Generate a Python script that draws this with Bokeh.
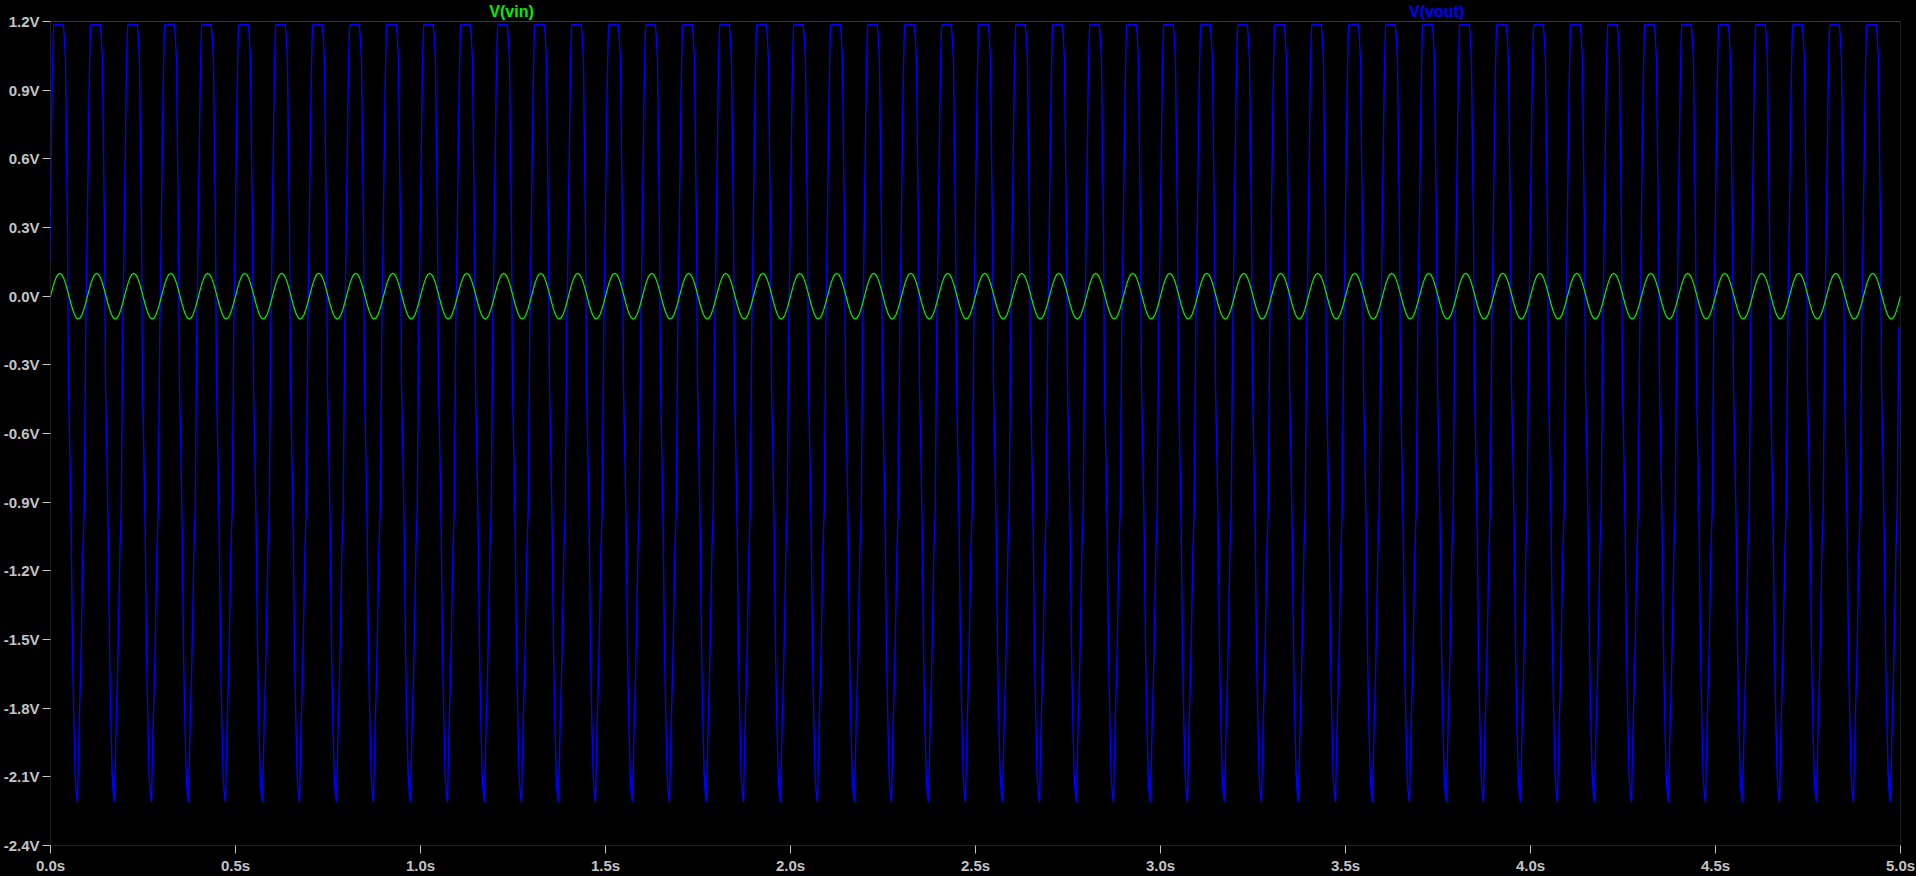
import numpy as np
from bokeh.plotting import figure
from bokeh.models import Range1d, FixedTicker, PrintfTickFormatter, BoxAnnotation
from bokeh.core.properties import value
from bokeh.embed import file_html
from bokeh.resources import INLINE

# ---------------- data ----------------
period = 0.1          # s  (10 Hz)
n_cycles = 50         # 0 .. 5 s

# V(vout): one cycle, time offsets (s) and values (V)
vout_cycle_t = [-0.0019, 0.0005, 0.0046, 0.0073, 0.0089, 0.0343, 0.0370, 0.0405,
                0.0432, 0.0459, 0.0486, 0.0527, 0.0559, 0.0595, 0.0630, 0.0668,
                0.0695, 0.0730, 0.0749, 0.0776, 0.0811, 0.0838, 0.0878, 0.0911,
                0.0927, 0.0954]
vout_cycle_v = [0.150, 0.441, 0.928, 1.139, 1.186, 1.186, 1.139, 1.030,
                0.630, 0.302, -0.388, -0.716, -1.021, -1.545, -1.850, -2.097,
                -2.170, -2.211, -2.054, -1.857, -1.661, -1.453, -1.092, -0.941,
                -0.628, -0.134]

# V(vin): one cycle, time offsets (s) and values (V)
vin_cycle_t = [0.000, 0.005, 0.010, 0.015, 0.020, 0.025, 0.030, 0.035, 0.040, 0.045,
               0.050, 0.055, 0.060, 0.065, 0.070, 0.075, 0.080, 0.085, 0.090, 0.095]
vin_cycle_v = [0.000, 0.031, 0.059, 0.081, 0.095, 0.100, 0.095, 0.081, 0.059, 0.031,
               0.000, -0.031, -0.059, -0.081, -0.095, -0.100, -0.095, -0.081, -0.059, -0.031]

y_ticks = [1.2, 0.9, 0.6, 0.3, 0.0, -0.3, -0.6, -0.9, -1.2, -1.5, -1.8, -2.1, -2.4]
x_ticks = [0.0, 0.5, 1.0, 1.5, 2.0, 2.5, 3.0, 3.5, 4.0, 4.5, 5.0]
trace_names = ["V(vin)", "V(vout)"]

# ---------------- build series by repeating the read cycle ----------------
vout_t, vout_v, vin_t, vin_v = [], [], [], []
for k in range(n_cycles):
    vout_t += [k * period + t for t in vout_cycle_t]
    vout_v += list(vout_cycle_v)
    vin_t += [k * period + t for t in vin_cycle_t]
    vin_v += list(vin_cycle_v)
vin_t.append(n_cycles * period)
vin_v.append(vin_cycle_v[0])

GRAY = "#C4C4C4"
GREEN = "#00F000"
BLUE = "#0000FF"
FONT = "Liberation Sans"

X0, X1 = x_ticks[0], x_ticks[-1]
Y0, Y1 = y_ticks[-1], y_ticks[0]
px_per_v = 825 / (Y1 - Y0)        # plot box is 825 px tall
top_extra = 21 / px_per_v          # header strip for the trace names (21 px)

p = figure(width=1916, height=876, output_backend="svg", toolbar_location=None,
           x_range=Range1d(X0, X1), y_range=Range1d(Y0, Y1 + top_extra),
           min_border_left=50, min_border_right=16, min_border_top=0, min_border_bottom=30,
           background_fill_color="black", border_fill_color="black",
           outline_line_color=None)
p.grid.visible = False

# plot box (grey frame) around the data area
p.add_layout(BoxAnnotation(left=X0, right=X1, bottom=Y0, top=Y1,
                           fill_color=None, line_color=GRAY, line_width=1, level="underlay"))

p.line(vout_t, vout_v, line_color=BLUE, line_width=1.4)
p.line(vin_t, vin_v, line_color=GREEN, line_width=1.2)

# trace names above the box
name_x = [(X1 - X0) * 0.2492, (X1 - X0) * 0.7492]
p.text(x=name_x, y=[Y1 + top_extra * 0.47] * 2, text=trace_names,
       text_color=[GREEN, BLUE], text_font=value(FONT), text_font_style="bold",
       text_font_size="16px", text_align="center", text_baseline="middle")

for ax, ticks, fmt in ((p.xaxis[0], x_ticks, "%.1fs"), (p.yaxis[0], y_ticks, "%.1fV")):
    ax.ticker = FixedTicker(ticks=ticks, minor_ticks=[])
    ax.formatter = PrintfTickFormatter(format=fmt)
    ax.axis_line_color = None
    ax.major_tick_line_color = GRAY
    ax.major_tick_out = 8
    ax.major_tick_in = 0
    ax.minor_tick_line_color = None
    ax.major_label_text_color = GRAY
    ax.major_label_text_font = FONT
    ax.major_label_text_font_style = "bold"
    ax.major_label_text_font_size = "15px"
p.yaxis[0].major_label_standoff = 3
p.xaxis[0].major_label_standoff = 3

html = file_html(p, INLINE, title="V(vin) V(vout)")
html = html.replace("</head>",
                    "<style>html,body{margin:0;padding:0;background:#000;overflow:hidden;}</style></head>", 1)
open("out.html", "w").write(html)
